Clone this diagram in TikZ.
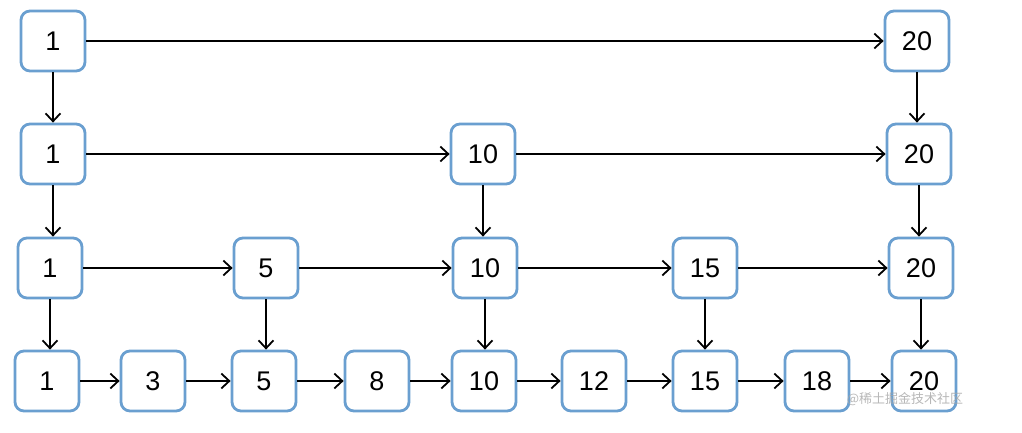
\documentclass[tikz,border=0pt]{standalone}
\usepackage{fontspec}
\setmainfont{Liberation Sans}
\newfontfamily\cjk{Noto Sans CJK SC}
\usetikzlibrary{arrows.meta}
\definecolor{boxblue}{HTML}{6A9FD0}
\tikzset{
  nd/.style={draw=boxblue, line width=2.8pt, rounded corners=9pt, fill=white,
    minimum width=64pt, minimum height=60pt, inner sep=0pt, font=\fontsize{27}{27}\selectfont},
  arr/.style={line width=1.8pt, -{Straight Barb[length=8pt,width=15pt,line width=1.8pt]}}
}
\begin{document}
\begin{tikzpicture}[x=1pt,y=-1pt]
\useasboundingbox (0,0) rectangle (1022,433);
% row 0
\node[nd] (a1) at (53,41) {1};
\node[nd] (a20) at (917,41) {20};
% row 1
\node[nd] (b1) at (53,154) {1};
\node[nd] (b10) at (483,154) {10};
\node[nd] (b20) at (919,154) {20};
% row 2
\node[nd] (c1) at (50,268) {1};
\node[nd] (c5) at (266,268) {5};
\node[nd] (c10) at (485,268) {10};
\node[nd] (c15) at (705,268) {15};
\node[nd] (c20) at (921,268) {20};
% row 3
\node[nd] (d1) at (47,381) {1};
\node[nd] (d3) at (153,381) {3};
\node[nd] (d5) at (264,381) {5};
\node[nd] (d8) at (377,381) {8};
\node[nd] (d10) at (484,381) {10};
\node[nd] (d12) at (594,381) {12};
\node[nd] (d15) at (705,381) {15};
\node[nd] (d18) at (817,381) {18};
\node[nd] (d20) at (924,381) {20};
% horizontal
\draw[arr] (a1) -- (a20);
\draw[arr] (b1) -- (b10);
\draw[arr] (b10) -- (b20);
\draw[arr] (c1) -- (c5);
\draw[arr] (c5) -- (c10);
\draw[arr] (c10) -- (c15);
\draw[arr] (c15) -- (c20);
\foreach \p/\q in {d1/d3,d3/d5,d5/d8,d8/d10,d10/d12,d12/d15,d15/d18,d18/d20}
  \draw[arr] (\p) -- (\q);
% vertical
\foreach \p/\q in {a1/b1,a20/b20,b1/c1,b10/c10,b20/c20,c1/d1,c5/d5,c10/d10,c15/d15,c20/d20}
  \draw[arr] (\p.south) -- (\p.south |- \q.north);
% watermark
\node[text=gray!70, font=\cjk\fontsize{13}{13}\selectfont, inner sep=0pt, opacity=0.8] (wm) at (905,399) {@稀土掘金技术社区};
\end{tikzpicture}
\end{document}
